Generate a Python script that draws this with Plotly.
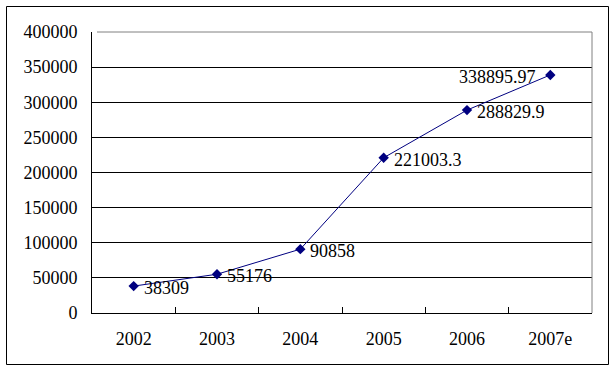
import plotly.graph_objects as go

years = ["2002", "2003", "2004", "2005", "2006", "2007e"]
values = [38309, 55176, 90858, 221003.3, 288829.9, 338895.97]
labels = ["38309", "55176", "90858", "221003.3", "288829.9", "338895.97"]
label_side = ["right", "right", "right", "right", "right", "left"]
y_ticks = [0, 50000, 100000, 150000, 200000, 250000, 300000, 350000, 400000]

W, H = 611, 370
L, R, T, B = 92, 19, 32, 57
pw, ph = W - L - R, H - T - B

fnt = dict(family="'Liberation Serif', 'Times New Roman', 'DejaVu Serif', serif", size=18, color="black")

fig = go.Figure()
fig.add_trace(go.Scatter(
    x=years, y=values, mode="lines+markers",
    line=dict(color="#000080", width=1),
    marker=dict(symbol="diamond", size=8, color="#000080"),
    cliponaxis=False, showlegend=False, hoverinfo="x+y",
))

annotations = []
for i, (y, t, side) in enumerate(zip(values, labels, label_side)):
    annotations.append(dict(
        x=i, y=y, xref="x", yref="y", text=t, showarrow=False,
        xanchor="left" if side == "right" else "right",
        xshift=8 if side == "right" else -12, yshift=-2,
        font=fnt,
    ))

def px_x(x):
    return (x - L) / pw

def px_y(y):
    return (H - B - y) / ph

fig.update_layout(
    width=W, height=H,
    margin=dict(l=L, r=R, t=T, b=B),
    paper_bgcolor="white", plot_bgcolor="white",
    font=fnt,
    annotations=annotations,
    xaxis=dict(
        type="category", range=[-0.5, len(years) - 0.5],
        tickson="boundaries", ticks="inside", ticklen=6,
        tickcolor="black", showline=True, linecolor="black", linewidth=1,
        showgrid=False, ticklabelstandoff=9, tickfont=fnt,
    ),
    yaxis=dict(
        range=[0, 400000], tickvals=y_ticks, ticktext=[str(v) for v in y_ticks],
        ticks="inside", ticklen=5, tickcolor="black",
        showline=True, linecolor="black", linewidth=1,
        showgrid=True, gridcolor="black", gridwidth=1, zeroline=False,
        ticklabelstandoff=10, tickfont=fnt,
    ),
    shapes=[
        dict(type="line", xref="paper", yref="paper", x0=px_x(L + 5), x1=1, y0=1, y1=1,
             line=dict(color="#808080", width=1), layer="above"),
        dict(type="line", xref="paper", yref="paper", x0=1, x1=1, y0=0, y1=1,
             line=dict(color="#808080", width=1), layer="above"),
        dict(type="rect", xref="paper", yref="paper",
             x0=px_x(6.5), x1=px_x(608.5), y0=px_y(364.5), y1=px_y(6.5),
             line=dict(color="black", width=1), layer="below"),
    ],
)

fig.write_html("out.html", config={"displayModeBar": False},
               post_script="document.body.style.margin='0';document.body.style.overflow='hidden';")
